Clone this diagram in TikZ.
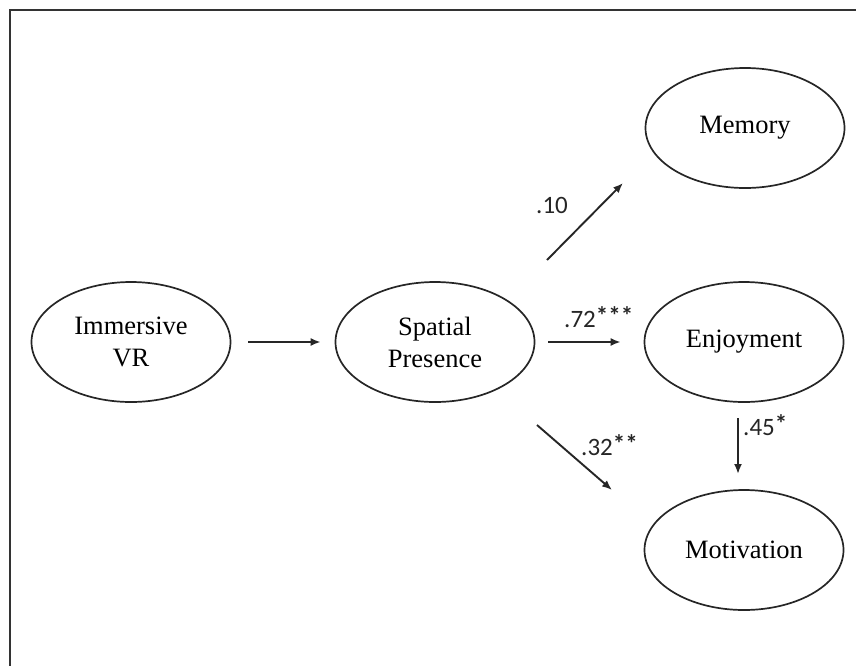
\documentclass[tikz,border=0pt]{standalone}
\usepackage{fontspec}
\setmainfont{Liberation Serif}
\newfontfamily\labfont{Carlito}
\usetikzlibrary{shapes.geometric,arrows.meta}

% significance stars, set full size and slightly raised
\newcommand{\sigstars}[1]{\raisebox{0.12em}{\bfseries #1}}

\tikzset{
  construct/.style={ellipse, draw=black!85, line width=1.7pt, inner sep=0pt,
    minimum width=199pt, minimum height=120pt, align=center,
    font=\fontsize{26.5}{32}\selectfont},
  path arrow/.style={draw=black!85, line width=1.9pt,
    -{Latex[length=10pt,width=8pt]}},
  coef/.style={anchor=base west, inner sep=0pt, text=black!85,
    font=\labfont\fontsize{25}{30}\selectfont},
  frameline/.style={draw=black!80, line width=2.4pt}
}

\begin{document}
\begin{tikzpicture}[x=1pt,y=-1pt]
  \useasboundingbox (0,0) rectangle (856,665);

  % outer frame (open to the right and bottom)
  \coordinate (fbl) at (10,668);
  \coordinate (ftl) at (10,10);
  \coordinate (ftr) at (860,10);
  \draw[frameline] (fbl) -- (ftl) -- (ftr);

  % constructs
  \node[construct] (ivr) at (131,342) {Immersive\\VR};
  \node[construct] (sp)  at (435,342) {Spatial\\Presence};
  \node[construct] (mem) at (745,128) {Memory};
  \node[construct] (enj) at (744,342) {Enjoyment};
  \node[construct] (mot) at (744,550) {Motivation};

  % end points of the offset paths
  \coordinate (memA) at (547,260);
  \coordinate (memB) at (623,183);
  \coordinate (motA) at (537,425);
  \coordinate (motB) at (612,490);
  \coordinate (emA)  at (738,418);
  \coordinate (emB)  at (738,474);

  % paths
  \draw[path arrow, shorten <=17pt, shorten >=14pt] (ivr) -- (sp);
  \draw[path arrow, shorten <=13pt, shorten >=23pt] (sp) -- (enj);
  \draw[path arrow] (memA) -- (memB);
  \draw[path arrow] (motA) -- (motB);
  \draw[path arrow] (emA) -- (emB);

  % path coefficients
  \node[coef] (c10) at (536,213) {.10};
  \node[coef] (c72) at (564,327) {.72\sigstars{***}};
  \node[coef] (c32) at (581,455) {.32\sigstars{**}};
  \node[coef] (c45) at (743,435) {.45\sigstars{*}};
\end{tikzpicture}
\end{document}
